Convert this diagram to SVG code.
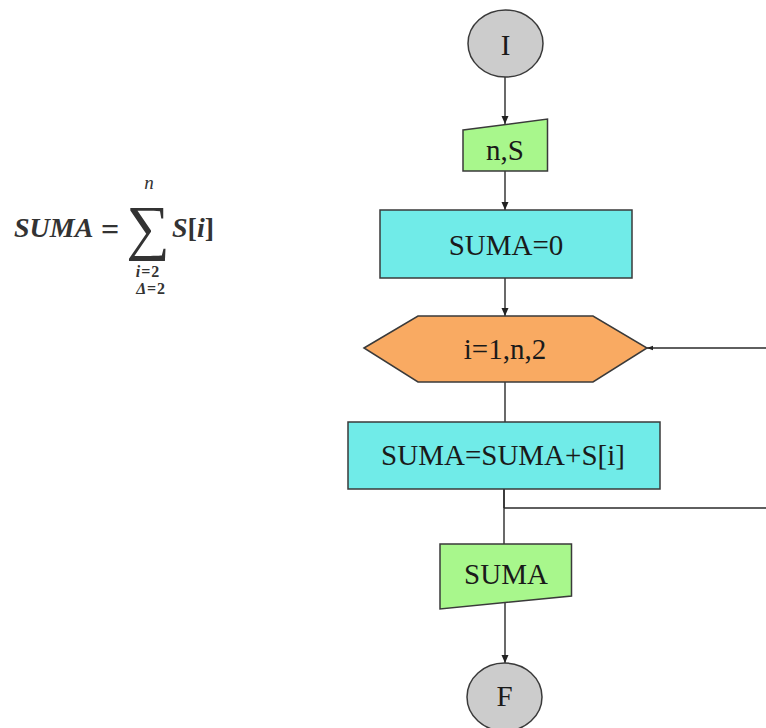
<svg xmlns="http://www.w3.org/2000/svg" width="766" height="728" viewBox="0 0 766 728">
  <style>
    .shape { stroke: #3a3a3a; stroke-width: 1.5; }
    .term { fill: #cccccc; }
    .io { fill: #a8f78c; }
    .proc { fill: #70ebe8; }
    .loop { fill: #f9aa62; }
    .lbl { font-family: "Liberation Serif", "Times New Roman", serif; font-size: 29px; fill: #1a1a1a; text-anchor: middle; }
    .wire { fill: none; stroke: #2a2a2a; stroke-width: 1.4; }
    .math { font-family: "Liberation Serif", "DejaVu Serif", serif; fill: #333333; }
    .it { font-style: italic; }
  </style>
  <defs>
    <marker id="head" markerUnits="userSpaceOnUse" markerWidth="8" markerHeight="8" viewBox="0 0 8 8" refX="8" refY="4" orient="auto">
      <path d="M0,0.5 L8,4 L0,7.5 Z" fill="#222222"/>
    </marker>
    <marker id="headSmall" markerUnits="userSpaceOnUse" markerWidth="6" markerHeight="6" viewBox="0 0 6 6" refX="6" refY="3" orient="auto">
      <path d="M0,0.8 L6,3 L0,5.2 Z" fill="#222222"/>
    </marker>
  </defs>

  <!-- summation formula -->
  <g id="formula">
    <text class="math it" x="14" y="237" font-size="28" font-weight="bold">SUMA</text>
    <text class="math" x="110" y="240" font-size="32" font-weight="bold" text-anchor="middle">=</text>
    <text class="math" x="148" y="248" font-size="61" text-anchor="middle">∑</text>
    <text class="math it" x="149" y="188.5" font-size="19" text-anchor="middle">n</text>
    <text class="math" x="172" y="237" font-size="28" font-weight="bold"><tspan class="it">S</tspan>[<tspan class="it">i</tspan>]</text>
    <text class="math" x="148" y="277" font-size="16" font-weight="bold" text-anchor="middle" letter-spacing="1"><tspan class="it">i</tspan>=2</text>
    <text class="math" x="151" y="294" font-size="16" font-weight="bold" text-anchor="middle" letter-spacing="0.7"><tspan class="it">Δ</tspan>=2</text>
  </g>

  <!-- connectors -->
  <g id="connectors">
    <line class="wire" x1="505" y1="77" x2="505" y2="124" marker-end="url(#head)"/>
    <line class="wire" x1="505" y1="171" x2="505" y2="210" marker-end="url(#head)"/>
    <line class="wire" x1="505" y1="278" x2="505" y2="316" marker-end="url(#head)"/>
    <line class="wire" x1="505" y1="382" x2="505" y2="422"/>
    <line class="wire" x1="504" y1="489" x2="504" y2="544" stroke-width="1.6"/>
    <line class="wire" x1="504" y1="489" x2="504" y2="508" stroke-width="3"/>
    <line class="wire" x1="504" y1="508" x2="766" y2="508"/>
    <line class="wire" x1="766" y1="348" x2="647" y2="348" marker-end="url(#headSmall)" stroke-width="1.6"/>
    <line class="wire" x1="505" y1="600" x2="505" y2="663" marker-end="url(#head)"/>
  </g>

  <!-- start -->
  <g id="start">
    <ellipse class="shape term" cx="505.5" cy="43.5" rx="37.5" ry="33.5"/>
    <text class="lbl" x="505.5" y="55">I</text>
  </g>

  <!-- read n, S -->
  <g id="input">
    <polygon class="shape io" points="463,130 547.5,119 547.5,171 463,171"/>
    <text class="lbl" x="505" y="160">n,S</text>
  </g>

  <!-- initialise sum -->
  <g id="init">
    <rect class="shape proc" x="380" y="210" width="252" height="68"/>
    <text class="lbl" x="506" y="255">SUMA=0</text>
  </g>

  <!-- loop header -->
  <g id="loop">
    <polygon class="shape loop" points="364,348 418,316 593,316 647,348 593,382 418,382"/>
    <text class="lbl" x="505" y="359">i=1,n,2</text>
  </g>

  <!-- accumulate -->
  <g id="accumulate">
    <rect class="shape proc" x="348" y="422" width="312" height="67"/>
    <text class="lbl" x="503" y="465">SUMA=SUMA+S[i]</text>
  </g>

  <!-- print result -->
  <g id="output">
    <polygon class="shape io" points="440,544 571.5,544 571.5,596 440,609"/>
    <text class="lbl" x="506" y="584">SUMA</text>
  </g>

  <!-- end -->
  <g id="end">
    <ellipse class="shape term" cx="504.5" cy="697" rx="37.5" ry="34"/>
    <text class="lbl" x="504.5" y="706">F</text>
  </g>
</svg>
